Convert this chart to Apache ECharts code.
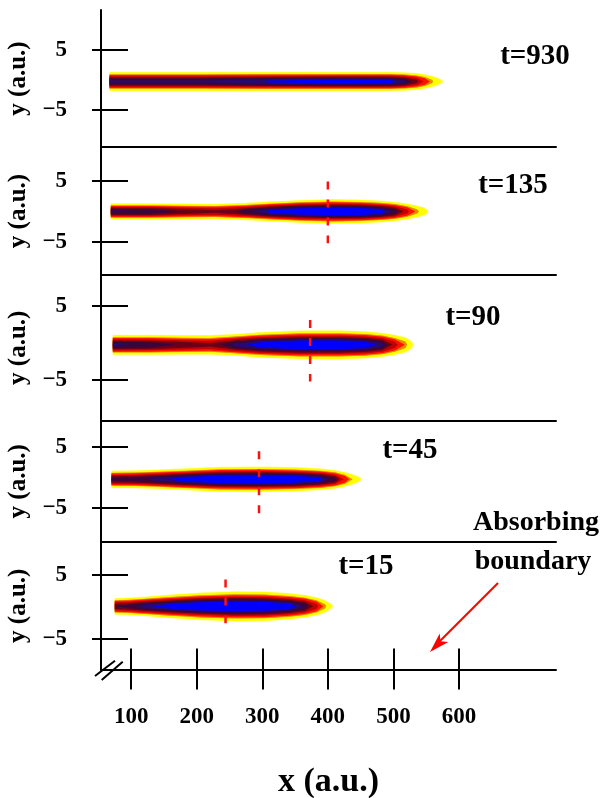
<!DOCTYPE html>
<html><head><meta charset="utf-8">
<script src="https://cdn.jsdelivr.net/npm/echarts@6/dist/echarts.min.js"></script>
<style>html,body{margin:0;padding:0;background:#fff}#c{width:603px;height:798px}</style>
</head><body><div id="c"></div>
<script>
// ---------- data ----------
const X_TICKS = [100, 200, 300, 400, 500, 600];
const Y_TICKS = [-5, 5];
const PANEL_LABELS = ['t=930', 't=135', 't=90', 't=45', 't=15'];

// blob profiles: x position, outer half-width (y units, incl. the fuzzy rim), relative peak intensity
const T930_X = [67, 205, 312, 418, 495, 518, 536, 548, 559, 568, 576];
const T930_W = [1.6, 1.6, 1.6, 1.6, 1.6, 1.55, 1.4, 1.22, 0.95, 0.65, 0.22];
const T930_P = [0.86, 0.86, 0.91, 0.94, 0.93, 0.86, 0.72, 0.58, 0.4, 0.2, 0.06];
const T930_YC = -0.25;

const T135_X = [69, 128, 182, 228, 273, 312, 357, 408, 449, 480, 502, 521, 536, 547, 553];
const T135_W = [1.34, 1.33, 1.3, 1.28, 1.43, 1.65, 1.9, 2.05, 1.96, 1.8, 1.6, 1.33, 1.0, 0.7, 0.32];
const T135_P = [0.86, 0.85, 0.78, 0.72, 0.82, 0.92, 0.97, 0.99, 0.98, 0.94, 0.84, 0.64, 0.42, 0.22, 0.08];
const T135_YC = 0.0;

const T90_X = [72, 128, 182, 220, 257, 296, 357, 418, 457, 483, 502, 518, 525, 530];
const T90_W = [1.36, 1.36, 1.33, 1.33, 1.48, 1.75, 1.96, 1.98, 1.86, 1.64, 1.38, 1.06, 0.74, 0.32];
const T90_P = [0.86, 0.84, 0.76, 0.72, 0.86, 0.94, 0.99, 0.99, 0.95, 0.87, 0.66, 0.45, 0.25, 0.08];
const T90_YC = -0.25;

const T45_X = [70, 106, 139, 182, 235, 296, 350, 388, 411, 426, 438, 446, 452];
const T45_W = [1.45, 1.48, 1.59, 1.8, 2.07, 2.12, 2.01, 1.8, 1.54, 1.22, 0.85, 0.53, 0.21];
const T45_P = [0.8, 0.82, 0.88, 0.94, 0.99, 1.0, 0.98, 0.92, 0.8, 0.58, 0.36, 0.18, 0.06];
const T45_YC = -0.3;

const T15_X = [75, 98, 121, 159, 205, 258, 304, 342, 365, 383, 396, 403, 408];
const T15_W = [1.3, 1.38, 1.54, 1.85, 2.17, 2.38, 2.33, 2.07, 1.8, 1.43, 1.0, 0.58, 0.21];
const T15_P = [0.78, 0.82, 0.88, 0.94, 0.99, 1.0, 0.99, 0.94, 0.84, 0.64, 0.4, 0.18, 0.06];
const T15_YC = 0.1;

// red dashed markers (x, top y, bottom y); first panel has none
const MARK_X = [null, 400, 373, 295, 244];
const MARK_TOP = [null, 4.9, 3.1, 4.3, 4.3];
const MARK_BOTTOM = [null, -5.2, -5.2, -5.9, -2.55];

// ---------- styles / layout ----------
const BLOBS = [
  [T930_X, T930_W, T930_P, T930_YC],
  [T135_X, T135_W, T135_P, T135_YC],
  [T90_X, T90_W, T90_P, T90_YC],
  [T45_X, T45_W, T45_P, T45_YC],
  [T15_X, T15_W, T15_P, T15_YC]
];
const LEVELS = [
  {c: 0.00, color: '#ffff8c'},
  {c: 0.08, color: '#ffff00'},
  {c: 0.36, color: '#c0a800'},
  {c: 0.39, color: '#ff8000'},
  {c: 0.46, color: '#ff1000'},
  {c: 0.60, color: '#c00000'},
  {c: 0.70, color: '#6a0018'},
  {c: 0.78, color: '#38063c'},
  {c: 0.85, color: '#260a70'},
  {c: 0.90, color: '#0000ff'}
];
const FONT = 'Liberation Serif';
const GRID_TOP = [10, 147, 275, 420.5, 542];
const GRID_H = [137, 128, 145.5, 121.5, 127.5];
const Y_MIN = [-11.17, -10.41, -10.47, -10.57, -9.77];
const Y_MAX = [11.67, 10.57, 9.19, 9.34, 10.16];
const X_MIN = 54, X_MAX = 748;

function blobRenderer(xs, ws, ps, yc) {
  return function (params, api) {
    const k = params.dataIndex;
    const c = LEVELS[k].c;
    const hw = xs.map((x, i) => ps[i] > c ? ws[i] * Math.sqrt(1 - c / ps[i]) : 0);
    const runs = [];
    let cur = null;
    for (let i = 0; i < xs.length; i++) {
      if (hw[i] > 0) {
        if (!cur) {
          cur = {start: null, end: null, pts: []};
          if (i > 0) {
            const t = (c - ps[i - 1]) / (ps[i] - ps[i - 1]);
            cur.start = xs[i - 1] + t * (xs[i] - xs[i - 1]);
          }
        }
        cur.pts.push([xs[i], hw[i]]);
      } else if (cur) {
        const t = (ps[i - 1] - c) / (ps[i - 1] - ps[i]);
        cur.end = xs[i - 1] + t * (xs[i] - xs[i - 1]);
        runs.push(cur); cur = null;
      }
    }
    if (cur) runs.push(cur);
    const children = runs.map(r => {
      const pts = [];
      if (r.start != null) pts.push(api.coord([r.start, yc]));
      r.pts.forEach(p => pts.push(api.coord([p[0], yc + p[1]])));
      if (r.end != null) pts.push(api.coord([r.end, yc]));
      for (let j = r.pts.length - 1; j >= 0; j--) pts.push(api.coord([r.pts[j][0], yc - r.pts[j][1]]));
      return {type: 'polygon', shape: {points: pts}, style: {fill: LEVELS[k].color}};
    });
    return {type: 'group', children: children};
  };
}

const axisLineStyle = {color: '#000', width: 2};
const grids = [], xAxes = [], yAxes = [], series = [];
for (let i = 0; i < 5; i++) {
  grids.push({left: 101, right: 47, top: GRID_TOP[i], height: GRID_H[i], containLabel: false, outerBoundsMode: 'none'});
  const last = i === 4;
  xAxes.push({
    type: 'value', gridIndex: i, min: X_MIN, max: X_MAX, position: 'bottom',
    axisLine: {show: true, onZero: false, lineStyle: axisLineStyle},
    axisTick: {show: last, length: 20, lineStyle: axisLineStyle, customValues: X_TICKS},
    axisLabel: {show: last, customValues: X_TICKS, margin: 36, fontFamily: FONT, fontWeight: 'bold', fontSize: 23, color: '#000'},
    splitLine: {show: false},
    name: last ? 'x (a.u.)' : '', nameLocation: 'middle', nameGap: 96,
    nameTextStyle: {fontFamily: FONT, fontWeight: 'bold', fontSize: 34, color: '#000'}
  });
  yAxes.push({
    type: 'value', gridIndex: i, min: Y_MIN[i], max: Y_MAX[i], position: 'left',
    axisLine: {show: true, onZero: false, lineStyle: axisLineStyle},
    axisTick: {show: true, length: 9, lineStyle: axisLineStyle, customValues: Y_TICKS},
    axisLabel: {customValues: Y_TICKS, margin: 34, fontFamily: FONT, fontWeight: 'bold', fontSize: 23, color: '#000',
      formatter: v => String(v).replace('-', '\u2212')},
    splitLine: {show: false},
    name: 'y (a.u.)', nameLocation: 'middle', nameGap: 58, nameRotate: 90,
    nameTextStyle: {fontFamily: FONT, fontWeight: 'bold', fontSize: 25, color: '#000'}
  });
  const b = BLOBS[i];
  series.push({
    type: 'custom', xAxisIndex: i, yAxisIndex: i, z: 2, silent: true,
    renderItem: blobRenderer(b[0], b[1], b[2], b[3]),
    data: LEVELS.map((l, k) => [k])
  });
  if (MARK_X[i] != null) {
    series.push({
      type: 'line', xAxisIndex: i, yAxisIndex: i, z: 5, symbol: 'none', silent: true,
      data: [[MARK_X[i], MARK_TOP[i]], [MARK_X[i], MARK_BOTTOM[i]]],
      lineStyle: {color: '#ff1010', width: 2.5, type: [8, 10]}
    });
  }
}
// inward halves of the crossing ticks
for (let i = 0; i < 5; i++) {
  yAxes.push({
    type: 'value', gridIndex: i, min: Y_MIN[i], max: Y_MAX[i], position: 'left',
    axisLine: {show: false, onZero: false},
    axisTick: {show: true, inside: true, length: 27, lineStyle: axisLineStyle, customValues: Y_TICKS},
    axisLabel: {show: false}, splitLine: {show: false}
  });
}
xAxes.push({
  type: 'value', gridIndex: 4, min: X_MIN, max: X_MAX, position: 'bottom',
  axisLine: {show: false, onZero: false},
  axisTick: {show: true, inside: true, length: 21, lineStyle: axisLineStyle, customValues: X_TICKS},
  axisLabel: {show: false}, splitLine: {show: false}
});

const LABEL_POS = [[535, 57], [513, 186], [473, 318], [410, 451], [366, 567]];
const graphics = PANEL_LABELS.map((t, i) => ({
  type: 'text', x: LABEL_POS[i][0], y: LABEL_POS[i][1], z: 10,
  style: {text: t, fill: '#000', font: 'bold 29px "' + FONT + '"', align: 'center', verticalAlign: 'middle'}
}));
graphics.push(
  {type: 'text', x: 536, y: 523, z: 10, style: {text: 'Absorbing', fill: '#000', font: 'bold 28px "' + FONT + '"', align: 'center', verticalAlign: 'middle'}},
  {type: 'text', x: 533, y: 562, z: 10, style: {text: 'boundary', fill: '#000', font: 'bold 28px "' + FONT + '"', align: 'center', verticalAlign: 'middle'}},
  {type: 'line', z: 10, shape: {x1: 498, y1: 583, x2: 440, y2: 641}, style: {stroke: '#ff0000', lineWidth: 2}},
  {type: 'polygon', z: 10, shape: {points: [[430, 652], [439.7, 633.6], [440.5, 641.3], [448.3, 642]]}, style: {fill: '#ff0000'}},
  {type: 'line', z: 10, shape: {x1: 95, y1: 676, x2: 115, y2: 660.7}, style: {stroke: '#000', lineWidth: 2}},
  {type: 'line', z: 10, shape: {x1: 101.7, y1: 680, x2: 122.7, y2: 661.7}, style: {stroke: '#000', lineWidth: 2}}
);

const chart = echarts.init(document.getElementById('c'));
chart.setOption({
  animation: false,
  backgroundColor: '#fff',
  grid: grids, xAxis: xAxes, yAxis: yAxes, series: series,
  graphic: graphics
});
</script></body></html>
